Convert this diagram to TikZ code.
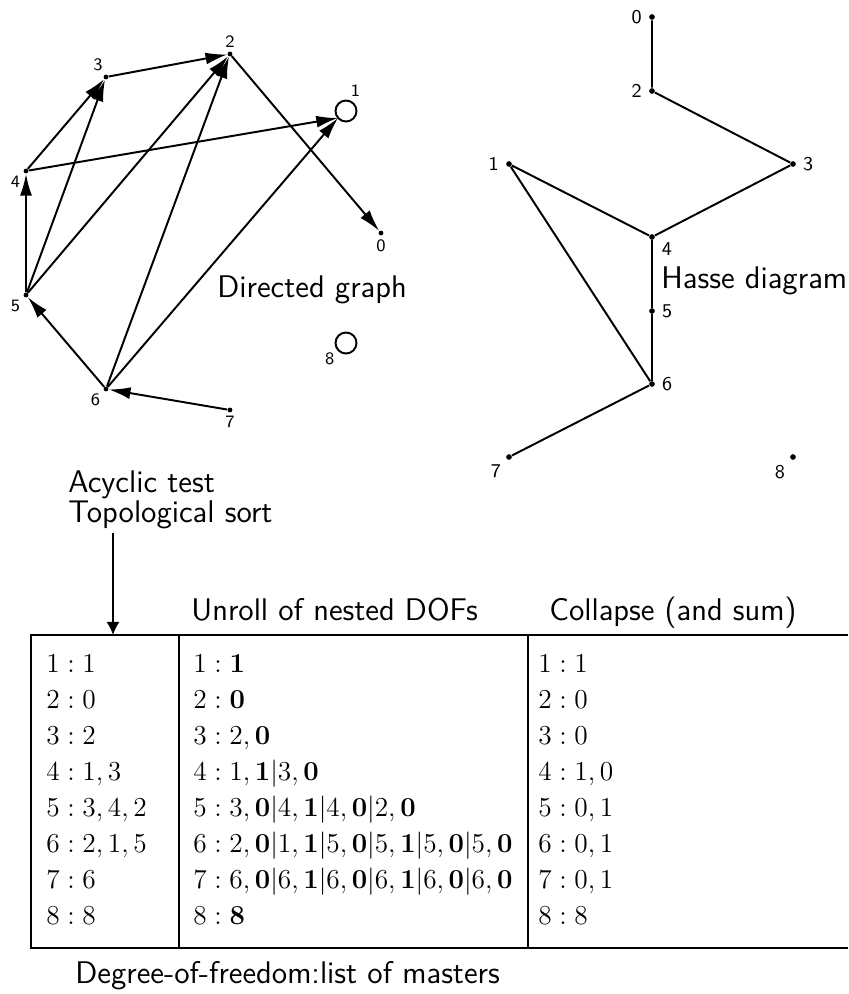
\RequirePackage{fix-cm}
\documentclass[tikz,border=0pt]{standalone}
\usetikzlibrary{arrows.meta,positioning}

\begin{document}
\begin{tikzpicture}[x=0.46pt, y=-0.46pt, every node/.style={font=\sffamily},
				pt/.style={circle, fill, inner sep=0pt, minimum size=2.2pt},
				hpt/.style={circle, fill, inner sep=0pt, minimum size=2.6pt},
				lbl/.style={font=\footnotesize\sffamily, inner sep=1pt, label distance=0.5pt},
				hlbl/.style={font=\small\sffamily, inner sep=1pt, label distance=2pt},
				arc/.style={line width=0.9pt, -{Latex[length=10pt, width=5.5pt]}},
				cover/.style={line width=0.9pt},
				title/.style={font=\Large\sffamily, inner sep=0pt, anchor=base west},
				cell/.style={font=\fontsize{12.6}{15}\selectfont, inner sep=0pt, anchor=base west}]
				\useasboundingbox (0,0) rectangle (848,994);
				% directed graph
				\node[pt, label={[lbl]below:0}] (n0) at (381,233) {};
				\coordinate[label={[lbl, label distance=10pt]62:1}] (n1) at (338,118);
				\node[pt, label={[lbl]above:2}] (n2) at (230,54) {};
				\node[pt, label={[lbl]100:3}] (n3) at (106,77) {};
				\node[pt, label={[lbl]215:4}] (n4) at (26,171) {};
				\node[pt, label={[lbl]215:5}] (n5) at (26,295) {};
				\node[pt, label={[lbl]215:6}] (n6) at (106,389) {};
				\node[pt, label={[lbl]below:7}] (n7) at (230,410) {};
				\coordinate[label={[lbl]210:8}] (n8) at (338,350);
				\draw[cover] (n1) ++(8,-7) circle[radius=10.5];
				\draw[cover] (n8) ++(8,-7) circle[radius=10.5];
				\draw[arc] (n3) -- (n2);
				\draw[arc] (n2) -- (n0);
				\draw[arc] (n4) -- (n3);
				\draw[arc] (n4) -- (n1);
				\draw[arc] (n5) -- (n4);
				\draw[arc] (n5) -- (n3);
				\draw[arc] (n5) -- (n2);
				\draw[arc] (n6) -- (n5);
				\draw[arc] (n6) -- (n2);
				\draw[arc] (n6) -- (n1);
				\draw[arc] (n7) -- (n6);
				\node[title] (dg) at (217,297) {Directed graph};
				% hasse diagram
				\node[hpt, label={[hlbl]left:0}] (h0) at (652,17) {};
				\node[hpt, label={[hlbl]left:2}] (h2) at (652,91) {};
				\node[hpt, label={[hlbl]right:3}] (h3) at (793,164) {};
				\node[hpt, label={[hlbl]left:1}] (h1) at (509,164) {};
				\node[hpt, label={[hlbl]-20:4}] (h4) at (652,237) {};
				\node[hpt, label={[hlbl]right:5}] (h5) at (652,311) {};
				\node[hpt, label={[hlbl]right:6}] (h6) at (652,384) {};
				\node[hpt, label={[hlbl]below left:7}] (h7) at (509,457) {};
				\node[hpt, label={[hlbl]below left:8}] (h8) at (793,457) {};
				\draw[cover] (h0) -- (h2) -- (h3) -- (h4) -- (h1) -- (h6) -- (h7);
				\draw[cover] (h4) -- (h5) -- (h6);
				\node[title] (hd) at (661,288) {Hasse diagram};
				% table of masters
				\node[title] (acyc) at (68,492) {Acyclic test};
				\node[title] (topo) at (68,522) {Topological sort};
				\coordinate (from) at (113,533);
				\coordinate (into) at (113,635);
				\draw[line width=0.8pt, -{Latex[length=6pt, width=6pt]}] (from) -- (into);
				\node[title] (unroll) at (191,620) {Unroll of nested DOFs};
				\node[title] (collapse) at (549,620) {Collapse (and sum)};
				\draw[line width=0.6pt] (848,635) -- (31,635) -- (31,948) -- (848,948);
				\draw[line width=0.6pt] (179,635) -- (179,948);
				\draw[line width=0.6pt] (528,635) -- (528,948);
				\node[cell] (a1) at (46,672) {$1:1$};
				\node[cell] (b1) at (193,672) {$1:\mathbf{1}$};
				\node[cell] (c1) at (538,672) {$1:1$};
				\node[cell] (a2) at (46,708) {$2:0$};
				\node[cell] (b2) at (193,708) {$2:\mathbf{0}$};
				\node[cell] (c2) at (538,708) {$2:0$};
				\node[cell] (a3) at (46,744) {$3:2$};
				\node[cell] (b3) at (193,744) {$3:2,\mathbf{0}$};
				\node[cell] (c3) at (538,744) {$3:0$};
				\node[cell] (a4) at (46,780) {$4:1,3$};
				\node[cell] (b4) at (193,780) {$4:1,\mathbf{1}|3,\mathbf{0}$};
				\node[cell] (c4) at (538,780) {$4:1,0$};
				\node[cell] (a5) at (46,816) {$5:3,4,2$};
				\node[cell] (b5) at (193,816) {$5:3,\mathbf{0}|4,\mathbf{1}|4,\mathbf{0}|2,\mathbf{0}$};
				\node[cell] (c5) at (538,816) {$5:0,1$};
				\node[cell] (a6) at (46,852) {$6:2,1,5$};
				\node[cell] (b6) at (193,852) {$6:2,\mathbf{0}|1,\mathbf{1}|5,\mathbf{0}|5,\mathbf{1}|5,\mathbf{0}|5,\mathbf{0}$};
				\node[cell] (c6) at (538,852) {$6:0,1$};
				\node[cell] (a7) at (46,888) {$7:6$};
				\node[cell] (b7) at (193,888) {$7:6,\mathbf{0}|6,\mathbf{1}|6,\mathbf{0}|6,\mathbf{1}|6,\mathbf{0}|6,\mathbf{0}$};
				\node[cell] (c7) at (538,888) {$7:0,1$};
				\node[cell] (a8) at (46,924) {$8:8$};
				\node[cell] (b8) at (193,924) {$8:\mathbf{8}$};
				\node[cell] (c8) at (538,924) {$8:8$};
				\node[title] (dof) at (75,983) {Degree-of-freedom:list of masters};
			\end{tikzpicture}
\end{document}
